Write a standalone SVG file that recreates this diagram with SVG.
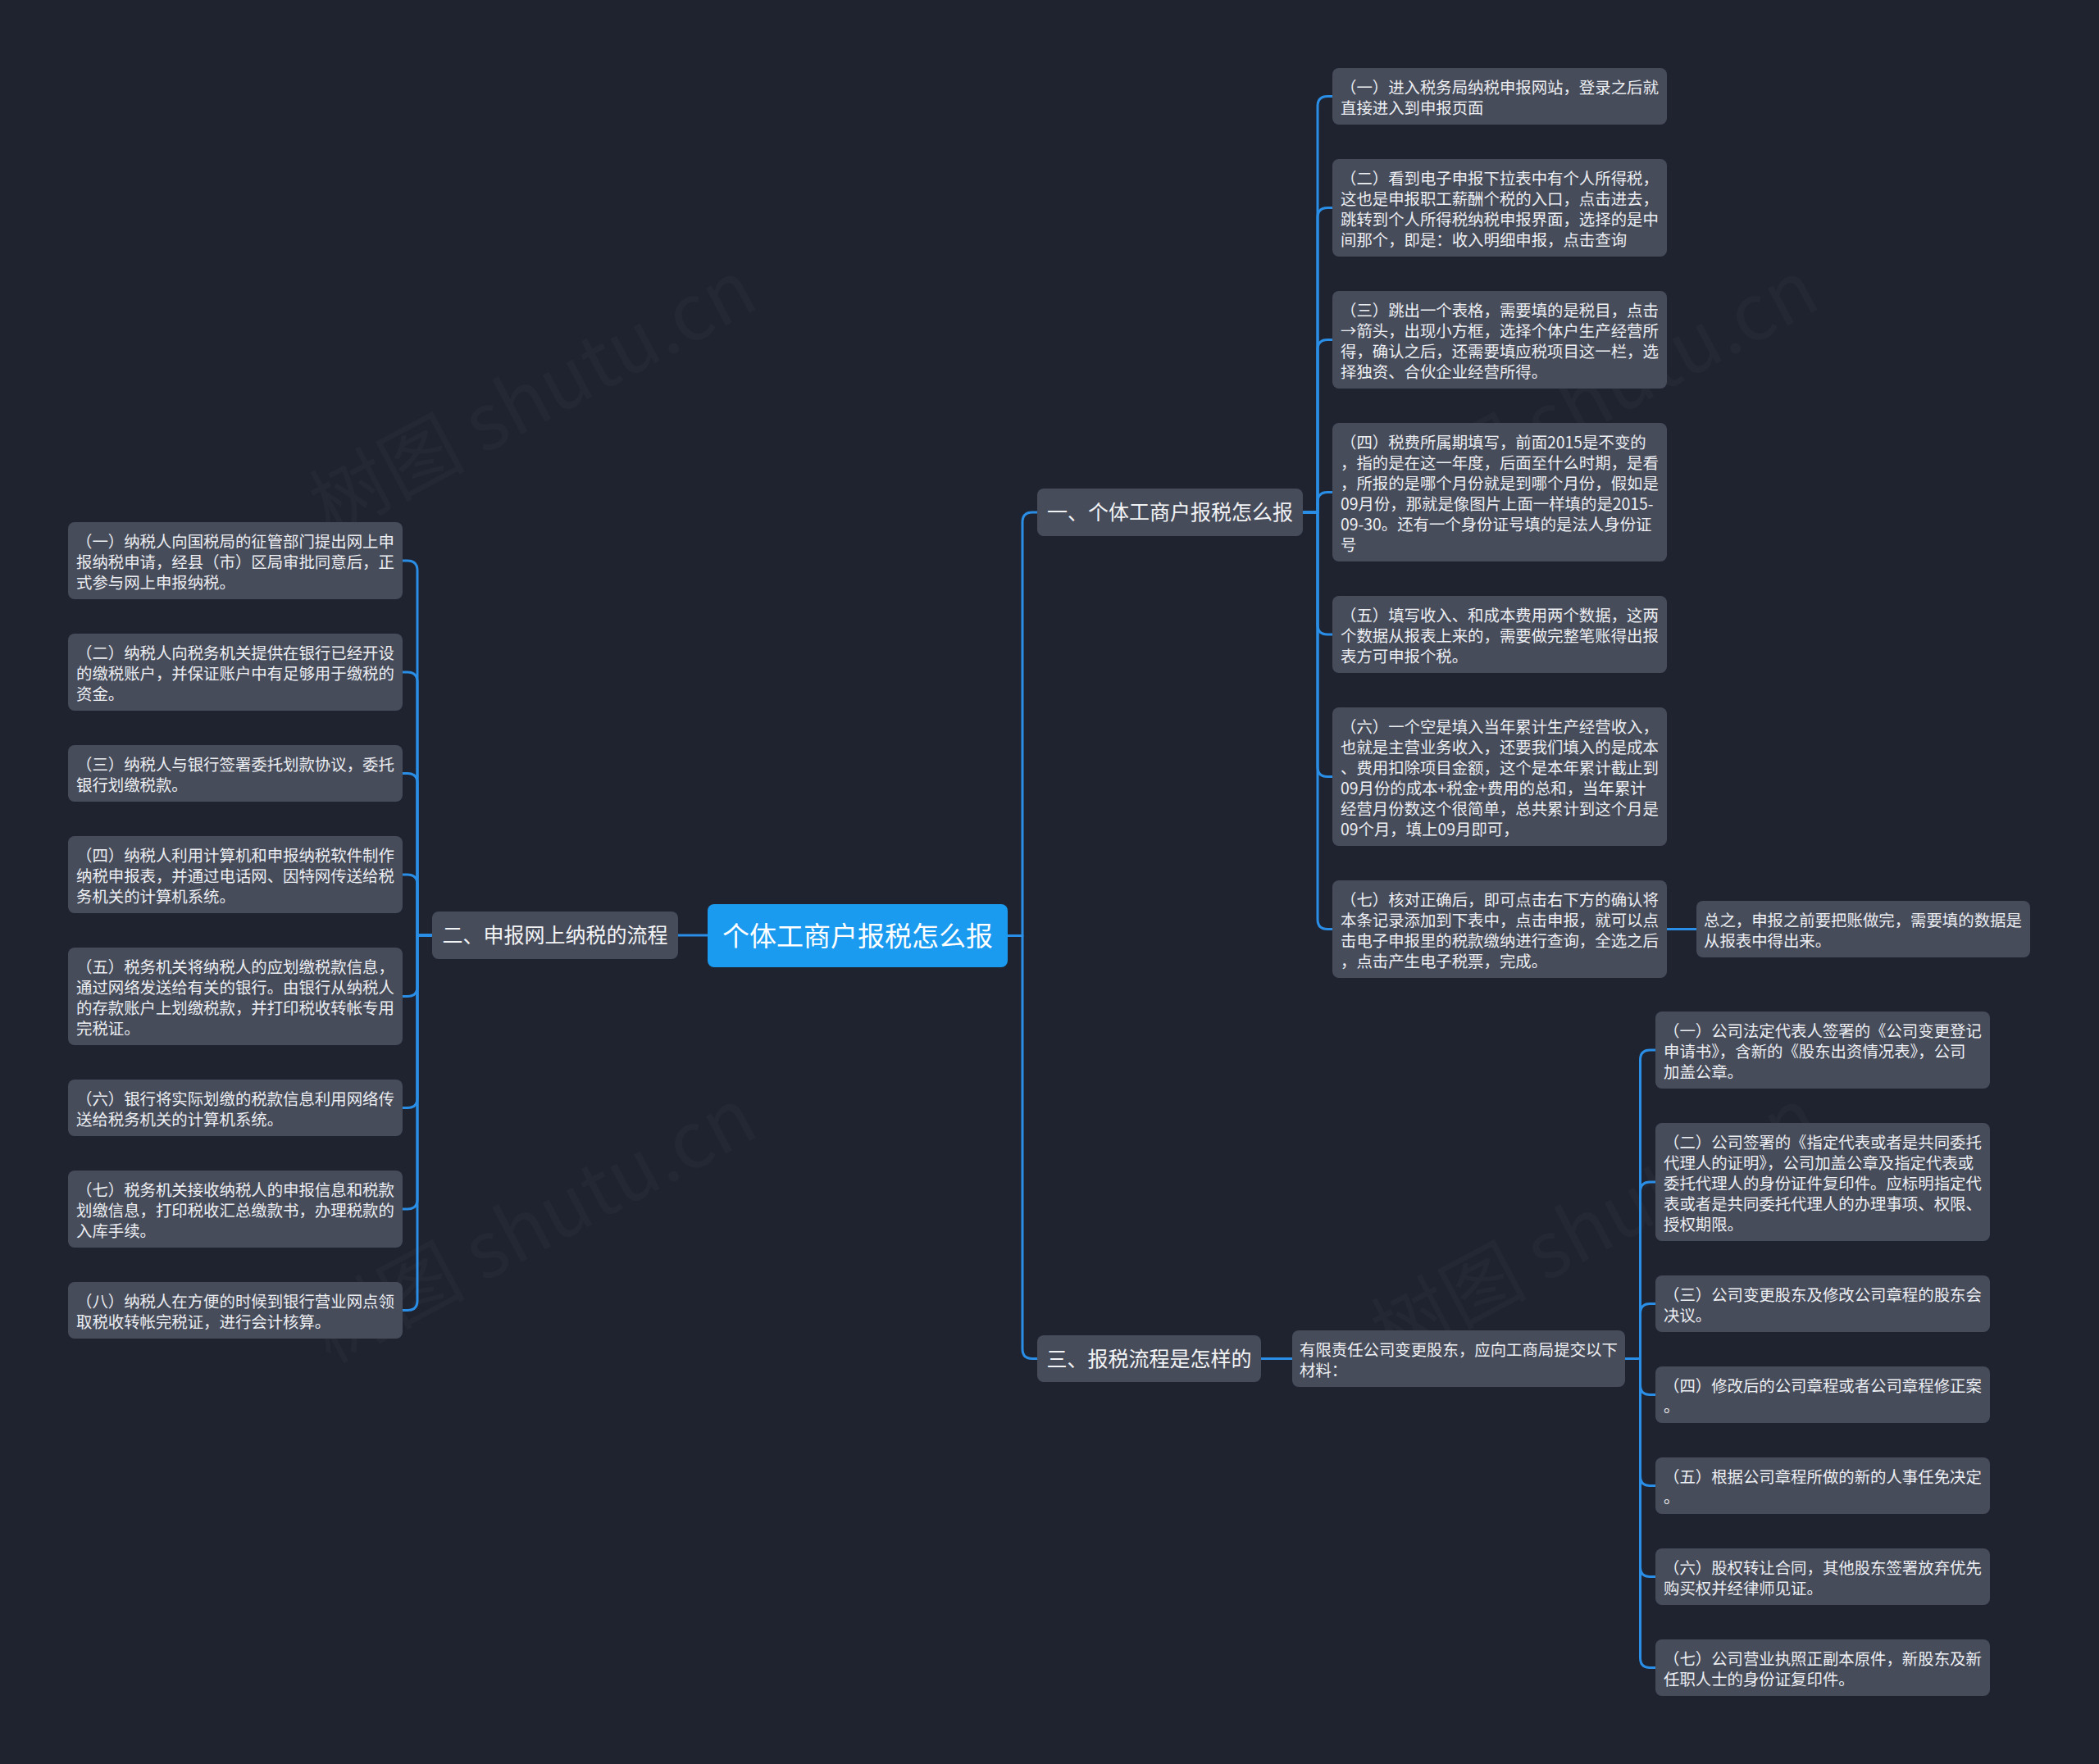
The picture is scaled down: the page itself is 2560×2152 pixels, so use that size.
<svg xmlns="http://www.w3.org/2000/svg" width="2560" height="2152" viewBox="0 0 2560 2152">
<style>
.bg{fill:#1f2330}
.wm{font-family:"Noto Sans CJK SC","Noto Sans",sans-serif;font-size:95px;fill:#ffffff;fill-opacity:0.025;text-anchor:middle}
.node{fill:#474c5b}
.root{fill:#1a9bf0}
.t{font-family:"Noto Sans CJK SC","Noto Sans",sans-serif;font-size:19.4px;fill:#eceef2}
.b{font-family:"Noto Sans CJK SC","Noto Sans",sans-serif;font-size:25px;fill:#f2f3f5;text-anchor:middle}
.r{font-family:"Noto Sans CJK SC","Noto Sans",sans-serif;font-size:33px;fill:#ffffff;text-anchor:middle}
.c{fill:none;stroke:#2a8ee6;stroke-width:3;stroke-linecap:round;stroke-linejoin:round}
</style>
<rect class="bg" x="0" y="0" width="2560" height="2152"/>
<g id="watermarks">
<text class="wm" x="650" y="518" transform="rotate(-28 650 485)">树图 shutu.cn</text>
<text class="wm" x="650" y="1528" transform="rotate(-28 650 1495)">树图 shutu.cn</text>
<text class="wm" x="1945" y="518" transform="rotate(-28 1945 485)">树图 shutu.cn</text>
<text class="wm" x="1945" y="1528" transform="rotate(-28 1945 1495)">树图 shutu.cn</text>
</g>
<g id="connectors" class="c">
<path d="M1229 1141.5 H1247 V637 Q1247 625 1259 625 H1265"/>
<path d="M1229 1141.5 H1247 V1645.5 Q1247 1657.5 1259 1657.5 H1265"/>
<path d="M863 1141 H827"/>
<path d="M1589 625 H1607 V129.5 Q1607 117.5 1619 117.5 H1625"/>
<path d="M1589 625 H1607 V265.5 Q1607 253.5 1619 253.5 H1625"/>
<path d="M1589 625 H1607 V426.5 Q1607 414.5 1619 414.5 H1625"/>
<path d="M1589 625 H1607 V612.5 Q1607 600.5 1619 600.5 H1625"/>
<path d="M1589 625 H1607 V762 Q1607 774 1619 774 H1625"/>
<path d="M1589 625 H1607 V935.5 Q1607 947.5 1619 947.5 H1625"/>
<path d="M1589 625 H1607 V1121.5 Q1607 1133.5 1619 1133.5 H1625"/>
<path d="M2033 1133.5 H2069"/>
<path d="M527 1141 H509 V696 Q509 684 497 684 H491"/>
<path d="M527 1141 H509 V832 Q509 820 497 820 H491"/>
<path d="M527 1141 H509 V955.5 Q509 943.5 497 943.5 H491"/>
<path d="M527 1141 H509 V1079 Q509 1067 497 1067 H491"/>
<path d="M527 1141 H509 V1203.5 Q509 1215.5 497 1215.5 H491"/>
<path d="M527 1141 H509 V1339.5 Q509 1351.5 497 1351.5 H491"/>
<path d="M527 1141 H509 V1463 Q509 1475 497 1475 H491"/>
<path d="M527 1141 H509 V1586.5 Q509 1598.5 497 1598.5 H491"/>
<path d="M1538 1657.5 H1576"/>
<path d="M1982 1657.5 H2000.5 V1293 Q2000.5 1281 2012.5 1281 H2019"/>
<path d="M1982 1657.5 H2000.5 V1454 Q2000.5 1442 2012.5 1442 H2019"/>
<path d="M1982 1657.5 H2000.5 V1602.5 Q2000.5 1590.5 2012.5 1590.5 H2019"/>
<path d="M1982 1657.5 H2000.5 V1689.5 Q2000.5 1701.5 2012.5 1701.5 H2019"/>
<path d="M1982 1657.5 H2000.5 V1800.5 Q2000.5 1812.5 2012.5 1812.5 H2019"/>
<path d="M1982 1657.5 H2000.5 V1911.5 Q2000.5 1923.5 2012.5 1923.5 H2019"/>
<path d="M1982 1657.5 H2000.5 V2022.5 Q2000.5 2034.5 2012.5 2034.5 H2019"/>
</g>
<g id="root">
<rect class="root" x="863" y="1103" width="366" height="77" rx="8"/>
<text class="r" x="1046" y="1154">个体工商户报税怎么报</text>
</g>
<g id="branch1">
<rect class="node" x="1265" y="596" width="324" height="58" rx="8"/>
<text class="b" x="1427" y="634">一、个体工商户报税怎么报</text>
</g>
<g id="branch2">
<rect class="node" x="527" y="1112" width="300" height="58" rx="8"/>
<text class="b" x="677" y="1150">二、申报网上纳税的流程</text>
</g>
<g id="branch3">
<rect class="node" x="1265" y="1629" width="273" height="57" rx="8"/>
<text class="b" x="1401.5" y="1666.5">三、报税流程是怎样的</text>
</g>
<g id="a1">
<rect class="node" x="1625" y="83" width="408" height="69" rx="8"/>
<text class="t"><tspan x="1635" y="114">（一）进入税务局纳税申报网站，登录之后就</tspan><tspan x="1635" y="139">直接进入到申报页面</tspan></text>
</g>
<g id="a2">
<rect class="node" x="1625" y="194" width="408" height="119" rx="8"/>
<text class="t"><tspan x="1635" y="225">（二）看到电子申报下拉表中有个人所得税，</tspan><tspan x="1635" y="250">这也是申报职工薪酬个税的入口，点击进去，</tspan><tspan x="1635" y="275">跳转到个人所得税纳税申报界面，选择的是中</tspan><tspan x="1635" y="300">间那个，即是：收入明细申报，点击查询</tspan></text>
</g>
<g id="a3">
<rect class="node" x="1625" y="355" width="408" height="119" rx="8"/>
<text class="t"><tspan x="1635" y="386">（三）跳出一个表格，需要填的是税目，点击</tspan><tspan x="1635" y="411">→箭头，出现小方框，选择个体户生产经营所</tspan><tspan x="1635" y="436">得，确认之后，还需要填应税项目这一栏，选</tspan><tspan x="1635" y="461">择独资、合伙企业经营所得。</tspan></text>
</g>
<g id="a4">
<rect class="node" x="1625" y="516" width="408" height="169" rx="8"/>
<text class="t"><tspan x="1635" y="547">（四）税费所属期填写，前面2015是不变的</tspan><tspan x="1635" y="572">，指的是在这一年度，后面至什么时期，是看</tspan><tspan x="1635" y="597">，所报的是哪个月份就是到哪个月份，假如是</tspan><tspan x="1635" y="622">09月份，那就是像图片上面一样填的是2015-</tspan><tspan x="1635" y="647">09-30。还有一个身份证号填的是法人身份证</tspan><tspan x="1635" y="672">号</tspan></text>
</g>
<g id="a5">
<rect class="node" x="1625" y="727" width="408" height="94" rx="8"/>
<text class="t"><tspan x="1635" y="758">（五）填写收入、和成本费用两个数据，这两</tspan><tspan x="1635" y="783">个数据从报表上来的，需要做完整笔账得出报</tspan><tspan x="1635" y="808">表方可申报个税。</tspan></text>
</g>
<g id="a6">
<rect class="node" x="1625" y="863" width="408" height="169" rx="8"/>
<text class="t"><tspan x="1635" y="894">（六）一个空是填入当年累计生产经营收入，</tspan><tspan x="1635" y="919">也就是主营业务收入，还要我们填入的是成本</tspan><tspan x="1635" y="944">、费用扣除项目金额，这个是本年累计截止到</tspan><tspan x="1635" y="969">09月份的成本+税金+费用的总和，当年累计</tspan><tspan x="1635" y="994">经营月份数这个很简单，总共累计到这个月是</tspan><tspan x="1635" y="1019">09个月，填上09月即可，</tspan></text>
</g>
<g id="a7">
<rect class="node" x="1625" y="1074" width="408" height="119" rx="8"/>
<text class="t"><tspan x="1635" y="1105">（七）核对正确后，即可点击右下方的确认将</tspan><tspan x="1635" y="1130">本条记录添加到下表中，点击申报，就可以点</tspan><tspan x="1635" y="1155">击电子申报里的税款缴纳进行查询，全选之后</tspan><tspan x="1635" y="1180">，点击产生电子税票，完成。</tspan></text>
</g>
<g id="a7s">
<rect class="node" x="2069" y="1099" width="407" height="69" rx="8"/>
<text class="t"><tspan x="2078" y="1130">总之，申报之前要把账做完，需要填的数据是</tspan><tspan x="2078" y="1155">从报表中得出来。</tspan></text>
</g>
<g id="b1">
<rect class="node" x="83" y="637" width="408" height="94" rx="8"/>
<text class="t"><tspan x="93" y="668">（一）纳税人向国税局的征管部门提出网上申</tspan><tspan x="93" y="693">报纳税申请，经县（市）区局审批同意后，正</tspan><tspan x="93" y="718">式参与网上申报纳税。</tspan></text>
</g>
<g id="b2">
<rect class="node" x="83" y="773" width="408" height="94" rx="8"/>
<text class="t"><tspan x="93" y="804">（二）纳税人向税务机关提供在银行已经开设</tspan><tspan x="93" y="829">的缴税账户，并保证账户中有足够用于缴税的</tspan><tspan x="93" y="854">资金。</tspan></text>
</g>
<g id="b3">
<rect class="node" x="83" y="909" width="408" height="69" rx="8"/>
<text class="t"><tspan x="93" y="940">（三）纳税人与银行签署委托划款协议，委托</tspan><tspan x="93" y="965">银行划缴税款。</tspan></text>
</g>
<g id="b4">
<rect class="node" x="83" y="1020" width="408" height="94" rx="8"/>
<text class="t"><tspan x="93" y="1051">（四）纳税人利用计算机和申报纳税软件制作</tspan><tspan x="93" y="1076">纳税申报表，并通过电话网、因特网传送给税</tspan><tspan x="93" y="1101">务机关的计算机系统。</tspan></text>
</g>
<g id="b5">
<rect class="node" x="83" y="1156" width="408" height="119" rx="8"/>
<text class="t"><tspan x="93" y="1187">（五）税务机关将纳税人的应划缴税款信息，</tspan><tspan x="93" y="1212">通过网络发送给有关的银行。由银行从纳税人</tspan><tspan x="93" y="1237">的存款账户上划缴税款，并打印税收转帐专用</tspan><tspan x="93" y="1262">完税证。</tspan></text>
</g>
<g id="b6">
<rect class="node" x="83" y="1317" width="408" height="69" rx="8"/>
<text class="t"><tspan x="93" y="1348">（六）银行将实际划缴的税款信息利用网络传</tspan><tspan x="93" y="1373">送给税务机关的计算机系统。</tspan></text>
</g>
<g id="b7">
<rect class="node" x="83" y="1428" width="408" height="94" rx="8"/>
<text class="t"><tspan x="93" y="1459">（七）税务机关接收纳税人的申报信息和税款</tspan><tspan x="93" y="1484">划缴信息，打印税收汇总缴款书，办理税款的</tspan><tspan x="93" y="1509">入库手续。</tspan></text>
</g>
<g id="b8">
<rect class="node" x="83" y="1564" width="408" height="69" rx="8"/>
<text class="t"><tspan x="93" y="1595">（八）纳税人在方便的时候到银行营业网点领</tspan><tspan x="93" y="1620">取税收转帐完税证，进行会计核算。</tspan></text>
</g>
<g id="c0">
<rect class="node" x="1576" y="1623" width="406" height="69" rx="8"/>
<text class="t"><tspan x="1585" y="1654">有限责任公司变更股东，应向工商局提交以下</tspan><tspan x="1585" y="1679">材料：</tspan></text>
</g>
<g id="c1">
<rect class="node" x="2019" y="1234" width="408" height="94" rx="8"/>
<text class="t"><tspan x="2029" y="1265">（一）公司法定代表人签署的《公司变更登记</tspan><tspan x="2029" y="1290">申请书》，含新的《股东出资情况表》，公司</tspan><tspan x="2029" y="1315">加盖公章。</tspan></text>
</g>
<g id="c2">
<rect class="node" x="2019" y="1370" width="408" height="144" rx="8"/>
<text class="t"><tspan x="2029" y="1401">（二）公司签署的《指定代表或者是共同委托</tspan><tspan x="2029" y="1426">代理人的证明》，公司加盖公章及指定代表或</tspan><tspan x="2029" y="1451">委托代理人的身份证件复印件。应标明指定代</tspan><tspan x="2029" y="1476">表或者是共同委托代理人的办理事项、权限、</tspan><tspan x="2029" y="1501">授权期限。</tspan></text>
</g>
<g id="c3">
<rect class="node" x="2019" y="1556" width="408" height="69" rx="8"/>
<text class="t"><tspan x="2029" y="1587">（三）公司变更股东及修改公司章程的股东会</tspan><tspan x="2029" y="1612">决议。</tspan></text>
</g>
<g id="c4">
<rect class="node" x="2019" y="1667" width="408" height="69" rx="8"/>
<text class="t"><tspan x="2029" y="1698">（四）修改后的公司章程或者公司章程修正案</tspan><tspan x="2029" y="1723">。</tspan></text>
</g>
<g id="c5">
<rect class="node" x="2019" y="1778" width="408" height="69" rx="8"/>
<text class="t"><tspan x="2029" y="1809">（五）根据公司章程所做的新的人事任免决定</tspan><tspan x="2029" y="1834">。</tspan></text>
</g>
<g id="c6">
<rect class="node" x="2019" y="1889" width="408" height="69" rx="8"/>
<text class="t"><tspan x="2029" y="1920">（六）股权转让合同，其他股东签署放弃优先</tspan><tspan x="2029" y="1945">购买权并经律师见证。</tspan></text>
</g>
<g id="c7">
<rect class="node" x="2019" y="2000" width="408" height="69" rx="8"/>
<text class="t"><tspan x="2029" y="2031">（七）公司营业执照正副本原件，新股东及新</tspan><tspan x="2029" y="2056">任职人士的身份证复印件。</tspan></text>
</g>
</svg>
